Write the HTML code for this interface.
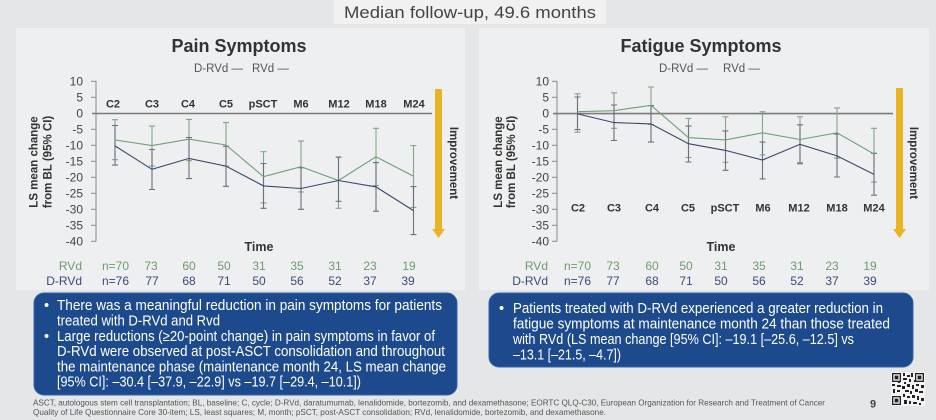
<!DOCTYPE html>
<html><head><meta charset="utf-8">
<style>
html,body{margin:0;padding:0;background:#e5e6e7;}
svg{display:block;font-family:"Liberation Sans",sans-serif;}
</style></head>
<body>
<svg width="936" height="420" viewBox="0 0 936 420" xmlns="http://www.w3.org/2000/svg">
<rect x="0" y="0" width="936" height="420" fill="#e5e6e7"/>
<!-- header -->
<rect x="334" y="0" width="272" height="24" fill="#f1f1f1"/>
<text x="470" y="18" font-size="17" fill="#444" text-anchor="middle" textLength="252" lengthAdjust="spacingAndGlyphs">Median follow-up, 49.6 months</text>

<!-- panels -->
<rect x="16" y="28" width="449" height="262" fill="#eeeff0"/>
<rect x="479" y="28" width="450" height="262" fill="#eeeff0"/>

<!-- ===== LEFT CHART ===== -->
<text x="239" y="52" font-size="18" font-weight="bold" fill="#333" text-anchor="middle">Pain Symptoms</text>
<text x="194" y="72" font-size="11.5" fill="#555">D-RVd —</text>
<text x="252" y="72" font-size="11.5" fill="#555">RVd —</text>

<g font-size="12" fill="#444" text-anchor="end">
<text x="83" y="85.5">10</text><text x="83" y="101.5">5</text><text x="83" y="117.5">0</text>
<text x="83" y="133.5">-5</text><text x="83" y="149.5">-10</text><text x="83" y="165.5">-15</text>
<text x="83" y="181.5">-20</text><text x="83" y="197.5">-25</text><text x="83" y="213.5">-30</text>
<text x="83" y="229.5">-35</text><text x="83" y="245.5">-40</text>
</g>
<g stroke="#8a8a8a" stroke-width="1">
<line x1="96" y1="81" x2="96" y2="241.5"/>
<line x1="91" y1="81.3" x2="96" y2="81.3"/><line x1="91" y1="97.3" x2="96" y2="97.3"/>
<line x1="91" y1="129.3" x2="96" y2="129.3"/><line x1="91" y1="145.3" x2="96" y2="145.3"/>
<line x1="91" y1="161.3" x2="96" y2="161.3"/><line x1="91" y1="177.3" x2="96" y2="177.3"/>
<line x1="91" y1="193.3" x2="96" y2="193.3"/><line x1="91" y1="209.3" x2="96" y2="209.3"/>
<line x1="91" y1="225.3" x2="96" y2="225.3"/><line x1="91" y1="241.3" x2="96" y2="241.3"/>
</g>
<line x1="92" y1="113.5" x2="432" y2="113.5" stroke="#7a7a7a" stroke-width="1.6"/>
<g font-size="11" font-weight="bold" fill="#333" text-anchor="middle">
<text x="113" y="107.5">C2</text><text x="152" y="107.5">C3</text><text x="188" y="107.5">C4</text>
<text x="226" y="107.5">C5</text><text x="263" y="107.5">pSCT</text><text x="301" y="107.5">M6</text>
<text x="339" y="107.5">M12</text><text x="376" y="107.5">M18</text><text x="414" y="107.5">M24</text>
</g>
<g font-size="11.5" font-weight="bold" fill="#333" text-anchor="middle">
<text transform="translate(37.5,162) rotate(-90)">LS mean change</text>
<text transform="translate(51.5,162) rotate(-90)">from BL (95% CI)</text>
</g>
<!-- error bars green -->
<g stroke="#86a58f" stroke-width="1.1" fill="none">
<path d="M115 119.7V159.7M112 119.7h6M112 159.7h6"/>
<path d="M152 126.1V166.1M149 126.1h6M149 166.1h6"/>
<path d="M189 119.4V160.7M186 119.4h6M186 160.7h6"/>
<path d="M226 122.6V166.1M223 122.6h6M223 166.1h6"/>
<path d="M263.5 151.7V202.9M260.5 151.7h6M260.5 202.9h6"/>
<path d="M301 141.1V192M298 141.1h6M298 192h6"/>
<path d="M338.5 157.1V208.3M335.5 157.1h6M335.5 208.3h6"/>
<path d="M376 128.3V185.6M373 128.3h6M373 185.6h6"/>
<path d="M413.5 145.6V207.4M410.5 145.6h6M410.5 207.4h6"/>
</g>
<!-- error bars dark -->
<g stroke="#6c717c" stroke-width="1.1" fill="none">
<path d="M115 125.5V165.1M112 125.5h6M112 165.1h6"/>
<path d="M152 149.5V189.5M149 149.5h6M149 189.5h6"/>
<path d="M189 137.6V178.6M186 137.6h6M186 178.6h6"/>
<path d="M226 146.3V186.3M223 146.3h6M223 186.3h6"/>
<path d="M263.5 163.5V208.3M260.5 163.5h6M260.5 208.3h6"/>
<path d="M301 167.7V209.3M298 167.7h6M298 209.3h6"/>
<path d="M338.5 157.1V201.3M335.5 157.1h6M335.5 201.3h6"/>
<path d="M376 162.6V211.2M373 162.6h6M373 211.2h6"/>
<path d="M413.5 186.6V234.6M410.5 186.6h6M410.5 234.6h6"/>
</g>
<polyline fill="none" stroke="#6f9f7c" stroke-width="1.1" points="115,139.9 152,145.6 189,139.2 226,145 263.5,176.7 301,166.7 338.5,180.5 376,156.8 413.5,176.3"/>
<polyline fill="none" stroke="#3a4766" stroke-width="1.1" points="115,145.9 152,169.3 189,158.4 226,166.1 263.5,185.9 301,188.5 338.5,180.5 376,186.9 413.5,210.6"/>
<!-- arrow left -->
<rect x="435" y="89" width="7" height="142" fill="#e8b424"/>
<polygon points="432,229 445,229 438.5,238" fill="#e8b424"/>
<text transform="translate(450,163) rotate(90)" font-size="11.5" font-weight="bold" fill="#333" text-anchor="middle">Improvement</text>
<text x="259" y="251" font-size="12.5" font-weight="bold" fill="#333" text-anchor="middle">Time</text>
<g font-size="12" fill="#6f9a73" text-anchor="middle">
<text x="82" y="270" text-anchor="end">RVd</text>
<text x="102" y="270" text-anchor="start">n=70</text>
<text x="151" y="270">73</text><text x="189" y="270">60</text><text x="224" y="270">50</text>
<text x="259" y="270">31</text><text x="297" y="270">35</text><text x="335" y="270">31</text>
<text x="370" y="270">23</text><text x="409" y="270">19</text>
</g>
<g font-size="12" fill="#3b4a78" text-anchor="middle">
<text x="82" y="285" text-anchor="end">D-RVd</text>
<text x="102" y="285" text-anchor="start">n=76</text>
<text x="152" y="285">77</text><text x="189" y="285">68</text><text x="224" y="285">71</text>
<text x="259" y="285">50</text><text x="297" y="285">56</text><text x="335" y="285">52</text>
<text x="370" y="285">37</text><text x="408" y="285">39</text>
</g>

<!-- ===== RIGHT CHART ===== -->
<text x="701" y="52" font-size="18" font-weight="bold" fill="#333" text-anchor="middle">Fatigue Symptoms</text>
<text x="659" y="72" font-size="11.5" fill="#555">D-RVd —</text>
<text x="723" y="72" font-size="11.5" fill="#555">RVd —</text>
<g font-size="12" fill="#444" text-anchor="end">
<text x="549" y="85.5">10</text><text x="549" y="101.5">5</text><text x="549" y="117.5">0</text>
<text x="549" y="133.5">-5</text><text x="549" y="149.5">-10</text><text x="549" y="165.5">-15</text>
<text x="549" y="181.5">-20</text><text x="549" y="197.5">-25</text><text x="549" y="213.5">-30</text>
<text x="549" y="229.5">-35</text><text x="549" y="245.5">-40</text>
</g>
<g stroke="#8a8a8a" stroke-width="1">
<line x1="557" y1="81" x2="557" y2="241.5"/>
<line x1="552" y1="81.3" x2="557" y2="81.3"/><line x1="552" y1="97.3" x2="557" y2="97.3"/>
<line x1="552" y1="129.3" x2="557" y2="129.3"/><line x1="552" y1="145.3" x2="557" y2="145.3"/>
<line x1="552" y1="161.3" x2="557" y2="161.3"/><line x1="552" y1="177.3" x2="557" y2="177.3"/>
<line x1="552" y1="193.3" x2="557" y2="193.3"/><line x1="552" y1="209.3" x2="557" y2="209.3"/>
<line x1="552" y1="225.3" x2="557" y2="225.3"/><line x1="552" y1="241.3" x2="557" y2="241.3"/>
</g>
<line x1="553" y1="113.6" x2="893" y2="113.6" stroke="#7a7a7a" stroke-width="1.6"/>
<g font-size="11" font-weight="bold" fill="#333" text-anchor="middle">
<text x="578" y="211.5">C2</text><text x="614" y="211.5">C3</text><text x="652" y="211.5">C4</text>
<text x="688" y="211.5">C5</text><text x="725" y="211.5">pSCT</text><text x="763" y="211.5">M6</text>
<text x="799" y="211.5">M12</text><text x="837" y="211.5">M18</text><text x="874" y="211.5">M24</text>
</g>
<g font-size="11.5" font-weight="bold" fill="#333" text-anchor="middle">
<text transform="translate(502,162) rotate(-90)">LS mean change</text>
<text transform="translate(515,162) rotate(-90)">from BL (95% CI)</text>
</g>
<g stroke="#86a58f" stroke-width="1.1" fill="none">
<path d="M577.5 93.8V132.2M574.5 93.8h6M574.5 132.2h6"/>
<path d="M614 92.8V128.3M611 92.8h6M611 128.3h6"/>
<path d="M651 87.1V124.5M648 87.1h6M648 124.5h6"/>
<path d="M688.5 118.4V157.5M685.5 118.4h6M685.5 157.5h6"/>
<path d="M725.5 116.8V162.3M722.5 116.8h6M722.5 162.3h6"/>
<path d="M762.5 111.7V154.9M759.5 111.7h6M759.5 154.9h6"/>
<path d="M800 116.8V163.9M797 116.8h6M797 163.9h6"/>
<path d="M837 107.9V158.1M834 107.9h6M834 158.1h6"/>
<path d="M874 128.3V182.1M871 128.3h6M871 182.1h6"/>
</g>
<g stroke="#6c717c" stroke-width="1.1" fill="none">
<path d="M577.5 97V129.6M574.5 97h6M574.5 129.6h6"/>
<path d="M614 105V140.5M611 105h6M611 140.5h6"/>
<path d="M651 105.6V142.1M648 105.6h6M648 142.1h6"/>
<path d="M688.5 126.1V162M685.5 126.1h6M685.5 162h6"/>
<path d="M725.5 130.9V170.3M722.5 130.9h6M722.5 170.3h6"/>
<path d="M762.5 142.1V178.9M759.5 142.1h6M759.5 178.9h6"/>
<path d="M800 124.8V162.9M797 124.8h6M797 162.9h6"/>
<path d="M837 134.1V177M834 134.1h6M834 177h6"/>
<path d="M874 153.3V195.2M871 153.3h6M871 195.2h6"/>
</g>
<polyline fill="none" stroke="#6f9f7c" stroke-width="1.1" points="577.5,111.7 614,110.7 651,105.3 688.5,137.6 725.5,139.9 762.5,132.8 800,139.5 837,132.8 874,154"/>
<polyline fill="none" stroke="#3a4766" stroke-width="1.1" points="577.5,113.9 614,122.6 651,123.9 688.5,143.7 725.5,150.4 762.5,160 800,144.3 837,155.9 874,174.4"/>
<rect x="896" y="88" width="7" height="143" fill="#e8b424"/>
<polygon points="893,229 906,229 899.5,238" fill="#e8b424"/>
<text transform="translate(910,163) rotate(90)" font-size="11.5" font-weight="bold" fill="#333" text-anchor="middle">Improvement</text>
<text x="721" y="251" font-size="12.5" font-weight="bold" fill="#333" text-anchor="middle">Time</text>
<g font-size="12" fill="#6f9a73" text-anchor="middle">
<text x="548" y="270" text-anchor="end">RVd</text>
<text x="564" y="270" text-anchor="start">n=70</text>
<text x="613" y="270">73</text><text x="652" y="270">60</text><text x="686" y="270">50</text>
<text x="721" y="270">31</text><text x="759" y="270">35</text><text x="797" y="270">31</text>
<text x="832" y="270">23</text><text x="870" y="270">19</text>
</g>
<g font-size="12" fill="#3b4a78" text-anchor="middle">
<text x="548" y="285" text-anchor="end">D-RVd</text>
<text x="564" y="285" text-anchor="start">n=76</text>
<text x="613" y="285">77</text><text x="652" y="285">68</text><text x="686" y="285">71</text>
<text x="721" y="285">50</text><text x="759" y="285">56</text><text x="797" y="285">52</text>
<text x="832" y="285">37</text><text x="870" y="285">39</text>
</g>

<!-- ===== BLUE BOXES ===== -->
<rect x="34" y="293" width="423" height="102" rx="10" fill="#1d4a8d" stroke="#3565a8" stroke-width="1"/>
<g font-size="14.5" fill="#ffffff">
<text x="44" y="310">•</text>
<text x="57" y="310" textLength="385" lengthAdjust="spacingAndGlyphs">There was a meaningful reduction in pain symptoms for patients</text>
<text x="57" y="325.5" textLength="163" lengthAdjust="spacingAndGlyphs">treated with D-RVd and Rvd</text>
<text x="44" y="341">•</text>
<text x="57" y="341" textLength="378" lengthAdjust="spacingAndGlyphs">Large reductions (≥20-point change) in pain symptoms in favor of</text>
<text x="57" y="356" textLength="388" lengthAdjust="spacingAndGlyphs">D-RVd were observed at post-ASCT consolidation and throughout</text>
<text x="57" y="371.5" textLength="389" lengthAdjust="spacingAndGlyphs">the maintenance phase (maintenance month 24, LS mean change</text>
<text x="57" y="386.5" textLength="304" lengthAdjust="spacingAndGlyphs">[95% CI]: –30.4 [–37.9, –22.9] vs –19.7 [–29.4, –10.1])</text>
</g>
<rect x="489" y="293" width="424" height="74" rx="10" fill="#1d4a8d" stroke="#3565a8" stroke-width="1"/>
<g font-size="14.5" fill="#ffffff">
<text x="499" y="313">•</text>
<text x="513" y="313" textLength="370" lengthAdjust="spacingAndGlyphs">Patients treated with D-RVd experienced a greater reduction in</text>
<text x="513" y="328.5" textLength="377" lengthAdjust="spacingAndGlyphs">fatigue symptoms at maintenance month 24 than those treated</text>
<text x="513" y="344" textLength="341" lengthAdjust="spacingAndGlyphs">with RVd (LS mean change [95% CI]: –19.1 [–25.6, –12.5] vs</text>
<text x="513" y="359.5" textLength="108" lengthAdjust="spacingAndGlyphs">–13.1 [–21.5, –4.7])</text>
</g>

<!-- footer -->
<g font-size="8.5" fill="#555">
<text x="33" y="405.5" textLength="792" lengthAdjust="spacingAndGlyphs">ASCT, autologous stem cell transplantation; BL, baseline; C, cycle; D-RVd, daratumumab, lenalidomide, bortezomib, and dexamethasone; EORTC QLQ-C30, European Organization for Research and Treatment of Cancer</text>
<text x="33" y="415" textLength="573" lengthAdjust="spacingAndGlyphs">Quality of Life Questionnaire Core 30-item; LS, least squares; M, month; pSCT, post-ASCT consolidation; RVd, lenalidomide, bortezomib, and dexamethasone.</text>
</g>
<text x="873" y="407.5" font-size="11" font-weight="bold" fill="#444" text-anchor="middle">9</text>

<!-- QR -->
<g>
<rect x="891" y="372" width="34" height="34" fill="#f4f4f4"/>
<g fill="#222">
<rect x="892" y="373" width="9" height="9"/><rect x="915" y="373" width="9" height="9"/><rect x="892" y="396" width="9" height="9"/>
</g>
<g fill="#f4f4f4">
<rect x="893.3" y="374.3" width="6.4" height="6.4"/><rect x="916.3" y="374.3" width="6.4" height="6.4"/><rect x="893.3" y="397.3" width="6.4" height="6.4"/>
</g>
<g fill="#222">
<rect x="894.6" y="375.6" width="3.8" height="3.8"/><rect x="917.6" y="375.6" width="3.8" height="3.8"/><rect x="894.6" y="398.6" width="3.8" height="3.8"/>
<rect x="903" y="373" width="2" height="3"/><rect x="907" y="375" width="3" height="2"/><rect x="911" y="373" width="2" height="4"/>
<rect x="903" y="378" width="4" height="2"/><rect x="909" y="379" width="2" height="3"/><rect x="904" y="382" width="2" height="2"/>
<rect x="892" y="384" width="3" height="2"/><rect x="897" y="385" width="4" height="2"/><rect x="902" y="386" width="3" height="3"/>
<rect x="907" y="384" width="3" height="3"/><rect x="912" y="385" width="2" height="4"/><rect x="916" y="384" width="3" height="2"/>
<rect x="921" y="385" width="3" height="3"/><rect x="893" y="389" width="2" height="4"/><rect x="897" y="390" width="3" height="2"/>
<rect x="905" y="390" width="4" height="2"/><rect x="910" y="391" width="2" height="3"/><rect x="915" y="389" width="3" height="3"/>
<rect x="919" y="391" width="4" height="2"/><rect x="903" y="394" width="2" height="3"/><rect x="907" y="396" width="3" height="2"/>
<rect x="912" y="395" width="3" height="3"/><rect x="917" y="396" width="2" height="4"/><rect x="921" y="398" width="3" height="3"/>
<rect x="904" y="400" width="3" height="4"/><rect x="909" y="401" width="2" height="3"/><rect x="913" y="402" width="4" height="2"/>
<rect x="919" y="403" width="2" height="2"/><rect x="898" y="381" width="2" height="2"/><rect x="914" y="380" width="2" height="2"/>
</g>
</g>
</svg>
</body></html>
